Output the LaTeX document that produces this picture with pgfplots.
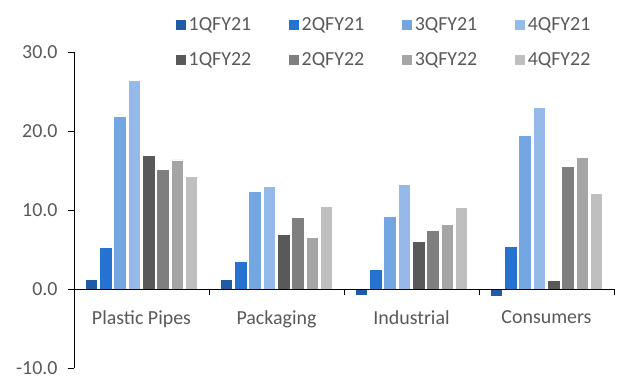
\documentclass[border=0pt]{standalone}
\usepackage{fontspec}
\setmainfont{Carlito}
\usepackage{pgfplots}
\usepackage{pgfplotstable}
\pgfplotsset{compat=1.18}
\definecolor{qa}{HTML}{1F5CA3}
\definecolor{qb}{HTML}{2672D0}
\definecolor{qc}{HTML}{74A7E2}
\definecolor{qd}{HTML}{95BAEA}
\definecolor{qe}{HTML}{595959}
\definecolor{qf}{HTML}{7F7F7F}
\definecolor{qg}{HTML}{A5A5A5}
\definecolor{qh}{HTML}{BFBFBF}
\definecolor{txt}{HTML}{595959}
\pgfplotstableread{
x a b c d e f g h
0 1.3 5.3 21.9 26.5 17.0 15.2 16.4 14.3
1 1.3 3.5 12.4 13.1 7.0 9.1 6.6 10.5
2 -0.8 2.5 9.2 13.3 6.1 7.5 8.2 10.4
3 -0.9 5.4 19.5 23.1 1.2 15.6 16.7 12.2
}\data
\begin{document}
\begin{tikzpicture}
\begin{axis}[
 at={(0,0)}, anchor=south west,
 scale only axis, width=540bp, height=316bp,
 xmin=-0.5, xmax=3.5, ymin=-10, ymax=30,
 axis y line*=left, axis x line*=middle,
 axis line style={black, line width=1bp},
 ytick={-10,0,10,20,30},
 xtick={0,1,2,3},
 xticklabels={Plastic Pipes,Packaging,Industrial,Consumers},
 minor xtick={-0.5,0.5,1.5,2.5,3.5},
 major x tick style={draw=none},
 minor x tick style={black, line width=1bp},
 y tick style={black, line width=1bp},
 tick align=outside,
 major tick length=6bp, minor tick length=6bp,
 ticklabel style={font=\fontsize{20}{24}\selectfont, text=txt},
 xticklabel style={yshift=-12bp},
 yticklabel style={xshift=-7bp},
 /pgf/number format/.cd, fixed, fixed zerofill, precision=1, assume math mode=true,
 /pgfplots/.cd,
 ybar, bar width=12.5bp, ybar=1.8bp,
 every axis plot/.append style={draw=white, line width=0.8bp},
 legend columns=4,
 legend style={at={(0.187,1.116)}, anchor=north west, draw=none, fill=none,
   font=\fontsize{20}{24}\selectfont, text=txt, inner sep=0pt,
   /tikz/every even column/.append style={column sep=35bp},
   row sep=16bp},
 legend image code/.code={\draw[#1, line width=0.5bp] (0bp,-5.5bp) rectangle (11bp,5.5bp);},
]
\addplot[fill=qa] table[x=x,y=a]{\data};
\addplot[fill=qb] table[x=x,y=b]{\data};
\addplot[fill=qc] table[x=x,y=c]{\data};
\addplot[fill=qd] table[x=x,y=d]{\data};
\addplot[fill=qe] table[x=x,y=e]{\data};
\addplot[fill=qf] table[x=x,y=f]{\data};
\addplot[fill=qg] table[x=x,y=g]{\data};
\addplot[fill=qh] table[x=x,y=h]{\data};
\legend{1QFY21,2QFY21,3QFY21,4QFY21,1QFY22,2QFY22,3QFY22,4QFY22}
\draw[black, line width=1bp] (axis cs:-0.5,-10) -- (axis cs:-0.5,30);
\draw[black, line width=1bp] (axis cs:-0.5,0) -- (axis cs:3.5,0);
\end{axis}
\useasboundingbox (-74bp,-5.5bp) rectangle (543bp,368.5bp);
\end{tikzpicture}
\end{document}
